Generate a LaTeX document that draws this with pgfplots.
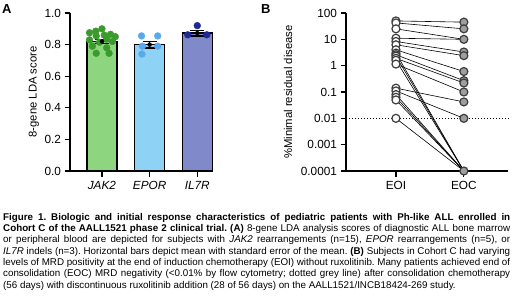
\documentclass[border=0pt]{standalone}
\usepackage{pgfplots}
\pgfplotsset{compat=1.18}
\usepackage{fontspec}
\setmainfont{Liberation Sans}
\frenchspacing
\definecolor{gbar}{HTML}{8DD57F}
\definecolor{gdot}{HTML}{3A9A2C}
\definecolor{bbar}{HTML}{8ED2F6}
\definecolor{bdot}{HTML}{5AA8F0}
\definecolor{pbar}{HTML}{8089C9}
\definecolor{pdot}{HTML}{1F2996}
\definecolor{eoc}{HTML}{9E9E9E}
\definecolor{ring}{HTML}{3C3C3C}
\pgfplotsset{myax/.style={scale only axis, axis x line=bottom, axis y line=left,
  axis line style={-, line width=1.2bp, black}, tick style={line width=1.2bp, black},
  tick align=outside, major tick length=5.5bp, clip=false,
  tick label style={font=\fontsize{11.8bp}{13bp}\selectfont},
  label style={font=\fontsize{11.3bp}{13bp}\selectfont},
  xticklabel style={yshift=-1.5bp},
  /pgf/number format/assume math mode=true}}
\begin{document}
\begin{tikzpicture}[x=1bp,y=1bp]
\path[use as bounding box] (0,0) rectangle (520,295);
% Panel A
\begin{axis}[myax, at={(70bp,124bp)}, anchor=south west, width=143bp, height=158bp,
  xmin=-0.67, xmax=2.33, ymin=0, ymax=1,
  ytick={0,0.2,0.4,0.6,0.8,1.0},
  yticklabel style={/pgf/number format/fixed, /pgf/number format/fixed zerofill, /pgf/number format/precision=1},
  xtick={0,1,2}, xticklabels={\textit{JAK2},\textit{EPOR},\textit{IL7R}},
  ylabel={8-gene LDA score},
  ylabel style={at={(axis description cs:-0.252,0.5)}, anchor=center}]
\addplot[ybar, bar width=0.63, bar shift=0pt, fill=gbar, draw=black, line width=1.2bp] coordinates {(0,0.82)};
\addplot[ybar, bar width=0.63, bar shift=0pt, fill=bbar, draw=black, line width=1.2bp] coordinates {(1,0.80)};
\addplot[ybar, bar width=0.63, bar shift=0pt, fill=pbar, draw=black, line width=1.2bp] coordinates {(2,0.873)};
\addplot[only marks, mark=*, mark size=3.4bp, gdot, mark options={draw=gdot, fill=gdot}] coordinates {
(-0.26,0.875)(-0.13,0.885)(0.0,0.90)(-0.12,0.855)(0.05,0.86)(0.18,0.865)(0.28,0.85)
(-0.26,0.83)(0.1,0.835)(0.22,0.82)(-0.05,0.815)(-0.2,0.79)(0.1,0.78)(-0.12,0.745)(0.15,0.745)};
\addplot[only marks, mark=*, mark size=3.4bp, bdot, mark options={draw=bdot, fill=bdot}] coordinates {
(0.83,0.855)(1.17,0.855)(0.85,0.79)(1.17,0.79)(0.84,0.74)};
\addplot[only marks, mark=*, mark size=3.4bp, pdot, mark options={draw=pdot, fill=pdot}] coordinates {
(2.0,0.92)(1.8,0.862)(2.2,0.862)};
\addplot[only marks, mark=none, black, error bars/.cd, y dir=both, y explicit,
  error bar style={line width=1.2bp, black},
  error mark options={rotate=90, mark size=7bp, line width=1.2bp, black}]
  coordinates {(0,0.82) +- (0,0.013) (1,0.80) +- (0,0.022) (2,0.873) +- (0,0.018)};
\end{axis}
% Panel B
\begin{axis}[myax, at={(346bp,124bp)}, anchor=south west, width=162bp, height=158bp,
  ymode=log, ymin=1e-4, ymax=100, xmin=-0.735, xmax=1.65,
  ytick={1e-4,1e-3,1e-2,1e-1,1,10,100},
  yticklabels={0.0001,0.001,0.01,0.1,1,10,100}, yminorticks=false,
  xtick={0,1}, xticklabels={EOI,EOC},
  ylabel={\%Minimal residual disease},
  ylabel style={at={(axis description cs:-0.358,0.5)}, anchor=center}]
\addplot[black, line width=1.1bp, dash pattern=on 1.2bp off 1.8bp] coordinates {(-0.735,0.01)(1.68,0.01)};
\addplot[black, line width=0.6bp] coordinates {(0,50)(1,45)};
\addplot[black, line width=0.6bp] coordinates {(0,42)(1,25)};
\addplot[black, line width=0.6bp] coordinates {(0,25)(1,10)};
\addplot[black, line width=0.6bp] coordinates {(0,11)(1,10)};
\addplot[black, line width=0.6bp] coordinates {(0,8.3)(1,3.3)};
\addplot[black, line width=0.6bp] coordinates {(0,6.2)(1,2.4)};
\addplot[black, line width=0.6bp] coordinates {(0,4)(1,0.6)};
\addplot[black, line width=0.6bp] coordinates {(0,2.6)(1,0.27)};
\addplot[black, line width=0.6bp] coordinates {(0,1.9)(1,0.22)};
\addplot[black, line width=0.6bp] coordinates {(0,1.15)(1,0.1)};
\addplot[black, line width=0.6bp] coordinates {(0,3.0)(1,0.0001)};
\addplot[black, line width=0.6bp] coordinates {(0,2.3)(1,0.0001)};
\addplot[black, line width=0.6bp] coordinates {(0,1.6)(1,0.0001)};
\addplot[black, line width=0.6bp] coordinates {(0,0.14)(1,0.042)};
\addplot[black, line width=0.6bp] coordinates {(0,0.11)(1,0.01)};
\addplot[black, line width=0.6bp] coordinates {(0,0.08)(1,0.0001)};
\addplot[black, line width=0.6bp] coordinates {(0,0.063)(1,0.0001)};
\addplot[black, line width=0.6bp] coordinates {(0,0.05)(1,0.0001)};
\addplot[black, line width=0.6bp] coordinates {(0,0.01)(1,0.0001)};
\addplot[only marks, mark=*, mark size=4bp, mark options={draw=ring, fill=white, line width=1.2bp}] coordinates {
(0,50)(0,42)(0,25)(0,11)(0,8.3)(0,6.2)(0,4)(0,3.0)(0,2.6)(0,2.3)(0,1.9)(0,1.6)(0,1.15)
(0,0.14)(0,0.11)(0,0.08)(0,0.063)(0,0.05)(0,0.01)};
\addplot[only marks, mark=*, mark size=4bp, mark options={draw=ring, fill=eoc, line width=1.2bp}] coordinates {
(1,45)(1,25)(1,10)(1,3.3)(1,2.4)(1,0.6)(1,0.27)(1,0.22)(1,0.1)(1,0.042)(1,0.01)(1,0.0001)};
\end{axis}
% Panel letters
\node[anchor=base west, inner sep=0pt, font=\bfseries\fontsize{13bp}{15bp}\selectfont] at (2bp,281.5bp) {A};
\node[anchor=base west, inner sep=0pt, font=\bfseries\fontsize{13bp}{15bp}\selectfont] at (261bp,281.5bp) {B};
% Caption
\node[anchor=north west, inner sep=0pt, text width=507bp, align=justify,
  font=\fontsize{9.8bp}{11.3bp}\selectfont] at (3bp,82bp) {%
\textbf{Figure 1. Biologic and initial response characteristics of pediatric patients with Ph-like ALL enrolled in}\linebreak
\textbf{Cohort C of the AALL1521 phase 2 clinical trial. (A)} 8-gene LDA analysis scores of diagnostic ALL bone marrow\linebreak
or peripheral blood are depicted for subjects with \textit{JAK2} rearrangements (n=15), \textit{EPOR} rearrangements (n=5), or\linebreak
\textit{IL7R} indels (n=3). Horizontal bars depict mean with standard error of the mean. \textbf{(B)} Subjects in Cohort C had varying\linebreak
levels of MRD positivity at the end of induction chemotherapy (EOI) without ruxolitinib. Many patients achieved end of\linebreak
consolidation (EOC) MRD negativity (<0.01\% by flow cytometry; dotted grey line) after consolidation chemotherapy\linebreak
(56 days) with discontinuous ruxolitinib addition (28 of 56 days) on the AALL1521/INCB18424-269 study.};
\end{tikzpicture}
\end{document}
